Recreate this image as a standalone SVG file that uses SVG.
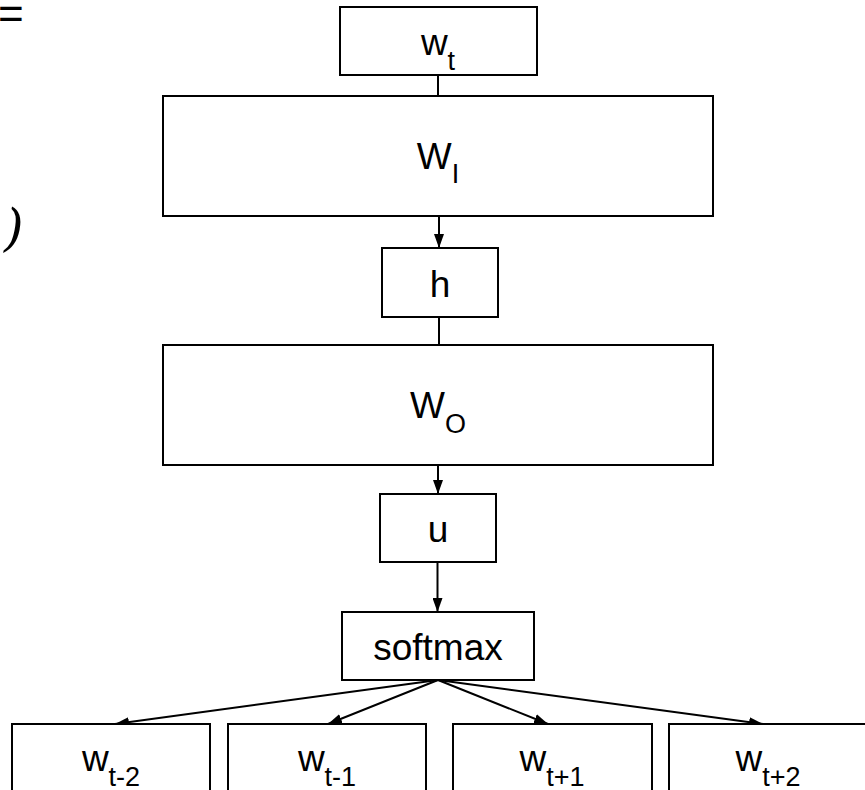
<svg xmlns="http://www.w3.org/2000/svg" width="865" height="790" viewBox="0 0 865 790">
  <style>
    .box { fill: #ffffff; stroke: #000000; stroke-width: 2; }
    .lbl { font-family: "Liberation Sans", Arial, sans-serif; font-size: 37px; fill: #000000; text-anchor: middle; }
    .sub { font-size: 27px; }
    .edge { stroke: #000000; stroke-width: 2; fill: none; }
    .edge-arrow { stroke: #000000; stroke-width: 2; fill: none; marker-end: url(#head); }
  </style>
  <defs>
    <marker id="head" markerWidth="14" markerHeight="10" refX="14" refY="5" orient="auto" markerUnits="userSpaceOnUse">
      <path d="M0,0 L14,5 L0,10 Z" fill="#000000"/>
    </marker>
  </defs>
  <rect width="865" height="790" fill="#ffffff"/>

  <!-- partial formula glyphs at the left margin -->
  <text x="-2" y="29" font-family="Liberation Sans, Arial, sans-serif" font-size="44">=</text>
  <text x="4" y="245" font-family="DejaVu Serif, serif" font-style="italic" font-size="50">)</text>

  <!-- connectors -->
  <g id="connectors">
    <line class="edge" x1="438" y1="75" x2="438" y2="96"/>
    <line class="edge-arrow" x1="439" y1="216" x2="439" y2="248"/>
    <line class="edge" x1="439" y1="317" x2="439" y2="345"/>
    <line class="edge-arrow" x1="438" y1="465" x2="438" y2="494"/>
    <line class="edge-arrow" x1="437.5" y1="562" x2="437.5" y2="612"/>
    <line class="edge-arrow" x1="438" y1="680" x2="115" y2="724"/>
    <line class="edge-arrow" x1="438" y1="680" x2="328" y2="724"/>
    <line class="edge-arrow" x1="438" y1="680" x2="548" y2="724"/>
    <line class="edge-arrow" x1="438" y1="680" x2="763" y2="724"/>
  </g>

  <g id="node-wt">
    <rect class="box" x="340" y="7" width="197" height="68"/>
    <text class="lbl" x="438" y="55">w<tspan class="sub" dy="15">t</tspan></text>
  </g>

  <g id="node-WI">
    <rect class="box" x="163" y="96" width="550" height="120"/>
    <text class="lbl" x="438" y="169">W<tspan class="sub" dy="14">I</tspan></text>
  </g>

  <g id="node-h">
    <rect class="box" x="382" y="248" width="116" height="69"/>
    <text class="lbl" x="440" y="297">h</text>
  </g>

  <g id="node-WO">
    <rect class="box" x="163" y="345" width="550" height="120"/>
    <text class="lbl" x="438" y="418">W<tspan class="sub" dy="15">O</tspan></text>
  </g>

  <g id="node-u">
    <rect class="box" x="380" y="494" width="116" height="68"/>
    <text class="lbl" x="438" y="542">u</text>
  </g>

  <g id="node-softmax">
    <rect class="box" x="342" y="612" width="192" height="68"/>
    <text class="lbl" x="438" y="660">softmax</text>
  </g>

  <g id="node-wt-2">
    <rect class="box" x="12" y="724" width="198" height="80"/>
    <text class="lbl" x="111" y="771">w<tspan class="sub" dy="15">t-2</tspan></text>
  </g>

  <g id="node-wt-1">
    <rect class="box" x="228" y="724" width="198" height="80"/>
    <text class="lbl" x="327" y="771">w<tspan class="sub" dy="15">t-1</tspan></text>
  </g>

  <g id="node-wt+1">
    <rect class="box" x="453" y="724" width="199" height="80"/>
    <text class="lbl" x="552" y="771">w<tspan class="sub" dy="15">t+1</tspan></text>
  </g>

  <g id="node-wt+2">
    <rect class="box" x="669" y="724" width="210" height="80"/>
    <text class="lbl" x="768" y="771">w<tspan class="sub" dy="15">t+2</tspan></text>
  </g>
</svg>
